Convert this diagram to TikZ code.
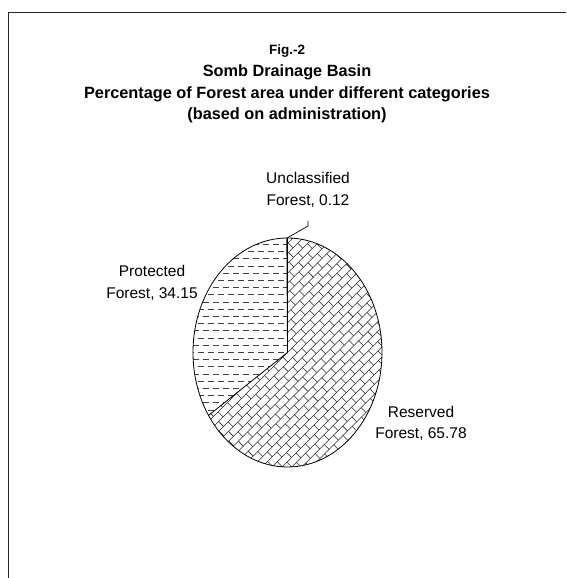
\documentclass[tikz,border=0pt]{standalone}
\usepackage{fontspec}
\setmainfont{Liberation Sans}
\begin{document}
\begin{tikzpicture}[x=1pt,y=1pt,
  lbl/.style={font=\fontsize{15.5}{18}\selectfont, inner sep=0pt, anchor=base},
  ttl/.style={font=\bfseries\fontsize{16.3}{18}\selectfont, inner sep=0pt, anchor=base},
  figlbl/.style={font=\bfseries\fontsize{13.5}{15}\selectfont, inner sep=0pt, anchor=base},
  frameline/.style={line width=1.5pt, draw=black!85},
  sliceline/.style={draw=black, line width=0.8pt},
  brick/.style={line width=0.55pt, draw=black!85},
  dashrow/.style={line width=1.1pt, draw=black!75, dash pattern=on 6.5pt off 3.5pt},
  leader/.style={draw=black, line width=0.7pt}]
\useasboundingbox (0,0) rectangle (566,578);
% frame (only left and top edges visible)
\draw[frameline] (8.5,0) -- (8.5,565.5) -- (566,565.5);

% title
\node[figlbl] (fig) at (287,523.5) {Fig.-2};
\node[ttl] (t1) at (287,501.3) {Somb Drainage Basin};
\node[ttl] (t2) at (287,479.7) {Percentage of Forest area under different categories};
\node[ttl] (t3) at (287,458.7) {(based on administration)};

% pie
\coordinate (C) at (287.5,225.5);
\begin{scope}[shift={(287.5,225.5)}]
  % Protected: horizontal dashes
  \begin{scope}
    \clip (0,0) -- (213.31:94.5 and 114.5) arc[start angle=213.31, end angle=90.43, x radius=94.5, y radius=114.5] -- cycle;
    \foreach \k in {-16,...,16} {
      \pgfmathsetmacro\ph{mod(abs(\k),2)*5}
      \draw[dashrow, dash phase=\ph pt] (-100,\k*7.2) -- (5,\k*7.2);
    }
  \end{scope}
  % Reserved: diagonal bricks
  \begin{scope}
    \clip (0,0) -- (90:94.5 and 114.5) arc[start angle=90, end angle=-146.69, x radius=94.5, y radius=114.5] -- cycle;
    \begin{scope}[rotate=45]
      \foreach \k in {-18,...,18} \draw[brick] (-125,\k*7) -- (125,\k*7);
      \foreach \k in {-18,...,17} {
        \pgfmathsetmacro\off{mod(abs(\k),2)*6.5}
        \foreach \j in {-10,...,9} \draw[brick] ({\j*13+\off},\k*7) -- ++(0,7);
      }
    \end{scope}
  \end{scope}
  % outlines
  \draw[sliceline] (0,0) ellipse[x radius=94.5, y radius=114.5];
  \draw[sliceline] (90:94.5 and 114.5) -- (0,0) -- (213.31:94.5 and 114.5);
  \draw[sliceline] (0,0) -- (90.43:94.5 and 114.5);
  \coordinate (utop) at (90.2:94.5 and 114.5);
\end{scope}

% leader line for Unclassified
\coordinate (L1) at (308,352);
\coordinate (L2) at (308,357);
\draw[leader] (utop) -- (L1) -- (L2);

% labels
\node[lbl] (u1) at (308,394.7) {Unclassified};
\node[lbl] (u2) at (308,372.3) {Forest, 0.12};
\node[lbl] (p1) at (152,301.3) {Protected};
\node[lbl] (p2) at (152,279.7) {Forest, 34.15};
\node[lbl] (r1) at (421,160.5) {Reserved};
\node[lbl] (r2) at (421,139) {Forest, 65.78};
\end{tikzpicture}
\end{document}
